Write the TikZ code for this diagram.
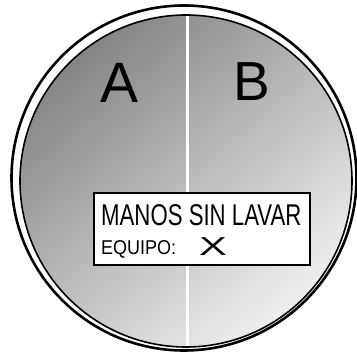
\documentclass[tikz,border=0pt]{standalone}
\usepackage{fontspec}
\usepackage{graphicx}
\setmainfont{Liberation Sans}
\begin{document}
\begin{tikzpicture}[x=1pt,y=-1pt,
  ring/.style={draw=black},
  txt/.style={inner sep=0pt, anchor=base west}]
\useasboundingbox (0,0) rectangle (357,355);
\fill[white] (0,0) rectangle (357,355);
% dish outer rim
\draw[ring, line width=2.6pt, fill=white] (184,178) circle[radius=172.5pt];
% agar with gradient
\shade[top color=black!48, bottom color=black!6, shading angle=40] (186,181) circle[radius=166pt];
% divider
\draw[white, line width=3pt] (187,14) -- (187,348);
% inner rim
\draw[ring, line width=1.6pt] (186,181) circle[radius=166pt];
% labels A and B
\node[font=\fontsize{57}{57}\selectfont, inner sep=0pt, anchor=base] (A) at (119.5,103) {A};
\node[font=\fontsize{55}{55}\selectfont, inner sep=0pt, anchor=base] (B) at (252,101) {B};
% tag
\node[draw, line width=2pt, fill=white, minimum width=216pt, minimum height=72pt, inner sep=0pt] (box) at (202,229) {};
\node[txt] (l1) at (101,226) {\fontsize{30}{30}\selectfont\scalebox{0.74}[1]{MANOS SIN LAVAR}};
\node[txt] (l2) at (101,255) {\fontsize{20}{20}\selectfont\scalebox{0.9}[1]{EQUIPO:}};
\node[txt] (lx) at (199,256) {\fontsize{26}{26}\selectfont\scalebox{1.6}[1]{X}};
\end{tikzpicture}
\end{document}
